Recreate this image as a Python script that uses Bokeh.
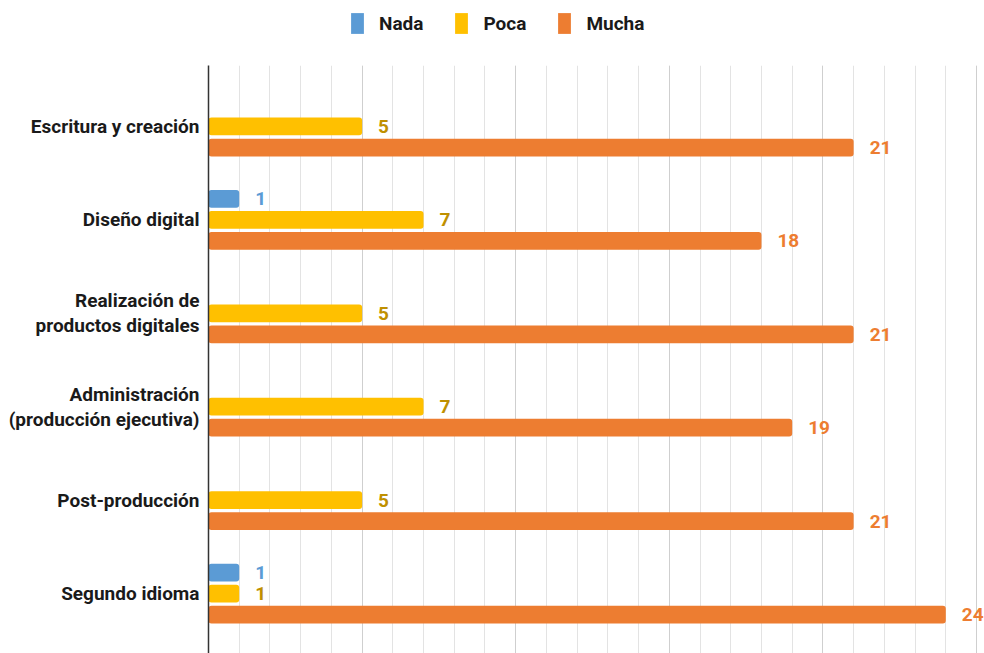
from bokeh.plotting import figure
from bokeh.layouts import column
from bokeh.models import (ColumnDataSource, Range1d, FixedTicker, SingleIntervalTicker,
                          Grid, Legend, LegendItem)
from bokeh.transform import dodge
from bokeh.core.properties import value
from bokeh.embed import file_html
from bokeh.resources import INLINE

categories = ["Escritura y creación", "Diseño digital", "Realización de\nproductos digitales",
              "Administración\n(producción ejecutiva)", "Post-producción", "Segundo idioma"]
series = ["Nada", "Poca", "Mucha"]
nada = [0, 1, 0, 0, 0, 1]
poca = [5, 7, 5, 7, 5, 1]
mucha = [21, 18, 21, 19, 21, 24]

bar_colors = ["#5B9BD5", "#FFC000", "#ED7D31"]
label_colors = ["#5B9BD5", "#BF9000", "#ED7D31"]
offsets = [-0.225, 0.0, 0.225]
FONT = "Roboto"

idx = list(range(len(categories)))

p = figure(width=984, height=588, output_backend="svg", toolbar_location=None,
           x_range=Range1d(0, 25.26), y_range=Range1d(5.642, -0.653),
           x_axis_location=None, min_border_left=208, min_border_right=0,
           min_border_top=0, min_border_bottom=0, outline_line_color=None)

p.ygrid.grid_line_color = None
p.xgrid.ticker = SingleIntervalTicker(interval=1)
p.xgrid.grid_line_color = "#e3e3e3"
p.xgrid.grid_line_width = 1
p.add_layout(Grid(dimension=0, ticker=FixedTicker(ticks=[5, 10, 15, 20, 25]),
                  grid_line_color="#cfcfcf", grid_line_width=1))

yax = p.yaxis[0]
yax.ticker = FixedTicker(ticks=idx)
yax.major_label_overrides = {i: c for i, c in zip(idx, categories)}
yax.major_tick_line_color = None
yax.minor_tick_line_color = None
yax.axis_line_color = "#333333"
yax.axis_line_width = 1.5
yax.major_label_standoff = 3
yax.major_label_text_font = FONT
yax.major_label_text_font_style = "bold"
yax.major_label_text_font_size = "19px"
yax.major_label_text_line_height = 1.1
yax.major_label_text_color = "#1a1a1a"

# legend strip figure
lg = figure(width=984, height=65, output_backend="svg", toolbar_location=None,
            x_range=Range1d(0, 1), y_range=Range1d(-20, -19),
            x_axis_location=None, y_axis_location=None, outline_line_color=None,
            min_border=0)
lg.grid.grid_line_color = None

items = []
for name, vals, bc, lc, off in zip(series, [nada, poca, mucha], bar_colors, label_colors, offsets):
    src = ColumnDataSource(dict(y=idx, v=vals))
    p.hbar(y=dodge("y", off, range=p.y_range), right="v", left=0, height=0.19,
           source=src, fill_color=bc, line_color=None, border_radius=3)
    r2 = lg.hbar(y="y", right="v", left=0, height=0.19, source=src,
                 fill_color=bc, line_color=None, visible=False)
    items.append(LegendItem(label=name, renderers=[r2]))
    lsrc = ColumnDataSource(dict(y=[i for i, v in zip(idx, vals) if v > 0],
                                 v=[v for v in vals if v > 0],
                                 t=[str(v) for v in vals if v > 0]))
    p.text(x="v", y=dodge("y", off, range=p.y_range), text="t", source=lsrc,
           x_offset=16, text_align="left", text_baseline="middle",
           text_font=value(FONT), text_font_style="bold", text_font_size="19px",
           text_color=lc)

legend = Legend(items=items, orientation="horizontal", location=(141, 29),
                border_line_color=None, background_fill_alpha=0,
                glyph_width=16, glyph_height=26, label_standoff=14, spacing=30,
                padding=1, margin=0,
                label_text_font=FONT, label_text_font_style="bold",
                label_text_font_size="19px", label_text_color="#1a1a1a")
lg.add_layout(legend)

layout = column(lg, p, spacing=0)
open("out.html", "w").write(file_html(layout, INLINE))
